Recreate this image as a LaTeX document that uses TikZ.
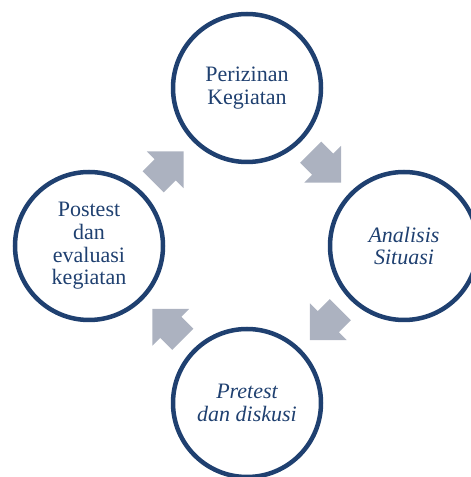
\documentclass[tikz,border=0pt]{standalone}
\usepackage{fontspec}
\setmainfont{Liberation Serif}
\usetikzlibrary{calc}
\definecolor{stagenavy}{RGB}{31,64,112}
\definecolor{flowgray}{RGB}{172,178,192}
\tikzset{
  stage/.style={circle, draw=stagenavy, line width=4.5pt, minimum size=148pt,
    inner sep=0pt, align=center, text=stagenavy, font=\fontsize{22}{22.7}\selectfont},
  flow/.pic={\fill[flowgray] (-21,-15) -- (-4,-15) -- (-4,-26) -- (22,0)
    -- (-4,26) -- (-4,15) -- (-21,15) -- cycle;}
}

\begin{document}
\begin{tikzpicture}[x=1pt, y=1pt]
        \useasboundingbox (0,0) rectangle (471,477);
        % node
        \node[stage] (perizinan) at (247,389) {Perizinan\\Kegiatan};
        \node[stage] (analisis) at (404,231) {\itshape Analisis\\\itshape Situasi};
        \node[stage] (pretest) at (247,74) {\itshape Pretest\\\itshape dan diskusi};
        \node[stage] (postest) at (89,231) {Postest\\dan\\evaluasi\\kegiatan};
        % arrows
        \pic[rotate=-45] at ($(perizinan)!.5!(analisis)$) {flow};
        \pic[rotate=-135] at ($(analisis)!.5!(pretest)$) {flow};
        \pic[rotate=135] at ($(pretest)!.5!(postest)$) {flow};
        \pic[rotate=45] at ($(postest)!.5!(perizinan)$) {flow};
      \end{tikzpicture}
\end{document}
